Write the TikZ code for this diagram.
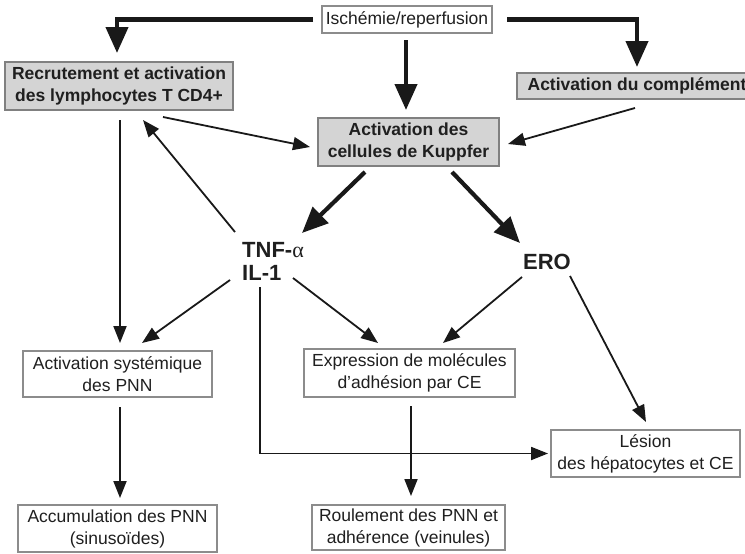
\documentclass[tikz,border=0pt]{standalone}
\usepackage{fontspec}
\setmainfont{Liberation Sans}
\newfontfamily\greekfont{Liberation Serif}
\usetikzlibrary{arrows.meta}

\begin{document}
\begin{tikzpicture}[x=1pt,y=-1pt,
  every node/.style={inner sep=0pt, outer sep=0pt, align=center, text=black!88},
  graybox/.style={draw=black!50, line width=1.3pt, fill=black!17,
    font=\fontsize{17.5}{21.5}\selectfont\bfseries},
  whitebox/.style={draw=black!45, line width=1.1pt, fill=white,
    font=\fontsize{17.5}{22}\selectfont},
  bigtext/.style={font=\fontsize{22}{23}\selectfont\bfseries},
  bigarrow/.style={line width=4.2pt, draw=black!90,
    -{Triangle[length=26pt,width=22pt]}},
  thinarrow/.style={line width=1.8pt, draw=black!90,
    -{Triangle[length=17pt,width=13pt]}},
]
\useasboundingbox (0,0) rectangle (745,554);

% boxes
\node[whitebox, minimum width=170, minimum height=27] (isch) at (407,19.5) {Ischémie/reperfusion};
\node[graybox, minimum width=228, minimum height=48] (recr) at (119,86) {Recrutement et activation\\des lymphocytes T CD4+};
\node[graybox, minimum width=240, minimum height=26] (compl) at (637,86) {Activation du complément};
\node[graybox, minimum width=181, minimum height=48] (kupf) at (408.5,142) {Activation des\\cellules de Kuppfer};
\node[bigtext, align=left] (tnf) at (273,261) {TNF-{\greekfont\mdseries α}\\IL-1};
\node[bigtext] (ero) at (547,262) {ERO};
\node[whitebox, minimum width=189, minimum height=46] (syst) at (117.5,374) {Activation systémique\\des PNN};
\node[whitebox, minimum width=211, minimum height=48] (expr) at (409.5,373) {Expression de molécules\\d'adhésion par CE};
\node[whitebox, minimum width=189, minimum height=47] (lesion) at (645.5,453.5) {Lésion\\des hépatocytes et CE};
\node[whitebox, minimum width=199, minimum height=47] (accum) at (117.5,528.5) {Accumulation des PNN\\(sinusoïdes)};
\node[whitebox, minimum width=193, minimum height=45] (roul) at (408.5,527.5) {Roulement des PNN et\\adhérence (veinules)};

% main pathways
\draw[bigarrow] ([shift={(-9,0)}]isch.west) -| ([shift={(-2,-9)}]recr.north);
\draw[bigarrow] ([shift={(15,0)}]isch.east) -| ([shift={(0,-6)}]compl.north);
\draw[bigarrow] ([shift={(-1,7)}]isch.south) -- ([shift={(-2.5,-8)}]kupf.north);
\draw[bigarrow] ([shift={(-43.5,6)}]kupf.south) -- ([shift={(29,-28)}]tnf.center);
\draw[bigarrow] ([shift={(43.5,6)}]kupf.south) -- ([shift={(-27,-19)}]ero.center);

% secondary links
\draw[thinarrow] ([shift={(-70,7)}]recr.south east) -- ([shift={(-8,5)}]kupf.west);
\draw[thinarrow] ([shift={(-2,9)}]compl.south) -- ([shift={(9,2)}]kupf.east);
\draw[thinarrow] ([shift={(-38,-29)}]tnf.center) -- ([shift={(24,10)}]recr.south);
\draw[thinarrow] ([shift={(1,10)}]recr.south) -- ([shift={(2.5,-8)}]syst.north);
\draw[thinarrow] ([shift={(-43,19)}]tnf.center) -- ([shift={(24.5,-8)}]syst.north);
\draw[thinarrow] ([shift={(20,17)}]tnf.center) -- ([shift={(-31.5,-6)}]expr.north);
\draw[thinarrow] ([shift={(-25,15)}]ero.center) -- ([shift={(33.5,-6)}]expr.north);
\draw[thinarrow] ([shift={(23,14)}]ero.center) -- ([shift={(0.5,-8)}]lesion.north);
\draw[thinarrow] ([shift={(-13,26)}]tnf.center) |- ([shift={(-3,0)}]lesion.west);
\draw[thinarrow] ([shift={(2.5,10)}]syst.south) -- ([shift={(2.5,-7)}]accum.north);
\draw[thinarrow] ([shift={(1.5,9)}]expr.south) -- ([shift={(2.5,-9)}]roul.north);
\end{tikzpicture}
\end{document}
